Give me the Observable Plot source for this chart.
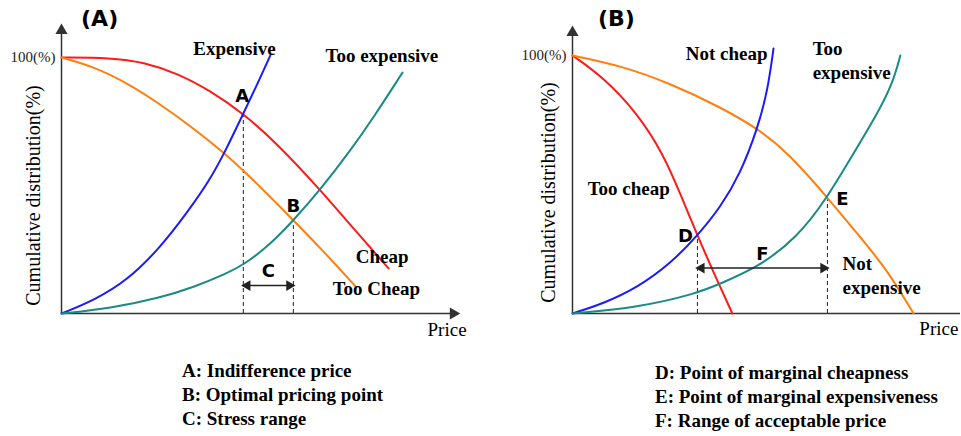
<!DOCTYPE html>
<html>
<head>
<meta charset="utf-8">
<script src="https://cdn.jsdelivr.net/npm/d3@7"></script>
<script src="https://cdn.jsdelivr.net/npm/@observablehq/plot@0.6"></script>
<style>
  html, body { margin: 0; padding: 0; background: #fff; }
  #root { position: relative; width: 961px; height: 436px; overflow: hidden; }
  #panelA { position: absolute; left: 0; top: 0; }
  #panelB { position: absolute; left: 480px; top: 0; }
  .cap { position: absolute; font-family: "Liberation Serif", "Times New Roman", serif; font-weight: bold; font-size: 19px; line-height: 24px; color: #000; white-space: nowrap; }
  #capA { left: 182px; top: 359px; }
  #capB { left: 655px; top: 361px; }
</style>
</head>
<body>
<div id="root">
  <div id="panelA"></div>
  <div id="panelB"></div>
  <div class="cap" id="capA"></div>
  <div class="cap" id="capB"></div>
</div>
<script>
// ---------- Panel A data (price 0-100, cumulative % 0-100) ----------
const cheapX        = [0, 12.3, 20.7, 29.2, 37.5, 45.8, 53.9, 65.2, 74.6, 82.4];
const cheapY        = [100, 99.9, 98.2, 93.8, 87.0, 78.1, 67.0, 48.3, 31.3, 17.6];
const tooCheapX     = [0, 8.1, 16.6, 24.9, 33.2, 41.3, 45.8, 58.4, 66.0, 74.3];
const tooCheapY     = [100, 96.4, 90.0, 81.7, 72.4, 62.3, 56.0, 36.5, 24.3, 10.2];
const expensiveX    = [0, 8.1, 16.6, 24.9, 31.7, 37.5, 41.3, 45.8, 49.4, 52.6];
const expensiveY    = [0, 5.1, 12.9, 25.8, 39.5, 52.5, 63.5, 78.1, 89.8, 100.8];
const tooExpAX      = [0, 12.3, 24.9, 33.2, 41.8, 45.8, 51.9, 58.4, 65.0, 72.8, 78.6, 85.9];
const tooExpAY      = [0, 2.0, 6.2, 10.2, 15.8, 19.0, 26.0, 36.3, 48.0, 63.7, 76.6, 94.1];

// key points A (indifference), B (optimal)
const pointsA       = ["A", "B"];
const pointsAX      = [45.8, 58.4];
const pointsAY      = [78.1, 36.4];
const rangeA        = {label: "C", x1: 45.8, x2: 58.4, y: 10.9};

// ---------- Panel B data ----------
const tooCheapBX    = [0, 8.0, 16.8, 23.5, 27.8, 32.2, 36.6, 41.2];
const tooCheapBY    = [100, 91.5, 77.5, 61.5, 46.3, 30.2, 15.1, 0];
const notExpX       = [0, 12.4, 25.3, 38.1, 47.7, 55.4, 65.7, 74.2, 81.2, 87.9];
const notExpY       = [100, 96.1, 89.1, 80.0, 71.7, 62.5, 45.0, 29.5, 16.7, 0];
const notCheapX     = [0, 8.0, 16.8, 25.3, 32.2, 38.1, 43.3, 47.7, 50.3, 51.8];
const notCheapY     = [0, 3.9, 10.1, 19.4, 30.2, 41.1, 54.3, 71.7, 86.4, 102.7];
const tooExpBX      = [0, 16.8, 32.2, 38.1, 47.7, 58.0, 65.7, 72.4, 78.6, 82.5, 84.5];
const tooExpBY      = [0, 2.3, 7.8, 11.6, 17.8, 29.5, 45.0, 62.0, 77.5, 89.1, 100];

const pointsB       = ["D", "E"];
const pointsBX      = [32.2, 65.7];
const pointsBY      = [30.2, 45.0];
const rangeB        = {label: "F", x1: 32.2, x2: 65.7, y: 17.6};

// ---------- Text ----------
const captionA = ["A: Indifference price", "B: Optimal pricing point", "C: Stress range"];
const captionB = ["D: Point of marginal cheapness", "E: Point of marginal expensiveness", "F: Range of acceptable price"];
const yLabel = "Cumulative distribution(%)";
const xLabel = "Price";
const topTick = "100(%)";

// series label annotations (data coordinates)
const labelsA = [
  {text: "Expensive", x: 33.2, y: 103.5},
  {text: "Too expensive", x: 66.5, y: 100.8},
  {text: "Cheap", x: 74.1, y: 22.3},
  {text: "Too Cheap", x: 68.3, y: 9.8}
];
const labelsB = [
  {text: "Not cheap", x: 29.2, y: 100.5},
  {text: "Too", x: 61.9, y: 102.7},
  {text: "expensive", x: 61.9, y: 93.4},
  {text: "Too cheap", x: 3.9, y: 48.4},
  {text: "Not", x: 69.6, y: 19.4},
  {text: "expensive", x: 69.6, y: 10.1}
];

const RED = "#ff1a1a", ORANGE = "#ff7f0e", BLUE = "#1a1aff", TEAL = "#1a8a84", AXIS = "#333333";
const SERIF = "'Liberation Serif', 'Times New Roman', serif";
const SANS = "'DejaVu Sans', Verdana, sans-serif";

const pts = (xs, ys) => xs.map((x, i) => ({x, y: ys[i]}));

function curve(xs, ys, color) {
  return Plot.line(pts(xs, ys), {x: "x", y: "y", stroke: color, strokeWidth: 2, curve: "basis"});
}

function panel(opts) {
  const {curves, keyNames, keyX, keyY, keyOff, range, labels, title, titleX, titleY, yLabX, yLabY, priceX, priceY, yTop, xEnd, xArrow, layout} = opts;
  const keys = keyNames.map((k, i) => ({k, x: keyX[i], y: keyY[i]}));
  const marks = [
    // axes
    Plot.ruleY([0], {x1: 0, x2: xEnd, stroke: AXIS, strokeWidth: 1.5}),
    Plot.ruleX([0], {y1: 0, y2: yTop, stroke: AXIS, strokeWidth: 1.5}),
    Plot.dot([{x: 0, y: yTop}], {x: "x", y: "y", symbol: "triangle", r: 4.5, fill: AXIS, stroke: null}),
    // dashed guides
    Plot.ruleX(keys, {x: "x", y1: 0, y2: "y", stroke: "#222", strokeWidth: 1, strokeDasharray: "4,3"}),
    // curves
    ...curves.map(c => curve(c[0], c[1], c[2])),
    // range arrow
    Plot.link([range], {x1: "x1", x2: "x2", y1: "y", y2: "y", stroke: "#222", strokeWidth: 1.5}),
    Plot.dot([range], {x: "x1", y: "y", symbol: "triangle", rotate: -90, r: 4, dx: 4, fill: "#222", stroke: null}),
    Plot.dot([range], {x: "x2", y: "y", symbol: "triangle", rotate: 90, r: 4, dx: -4, fill: "#222", stroke: null}),
    Plot.text([range], {x: d => (d.x1 + d.x2) / 2, y: "y", text: "label", dy: -14, fontFamily: SANS, fontWeight: "bold", fontSize: 18, fill: "#000"}),
    // key point letters (one mark each so offsets stay constant)
    ...keys.map((d, i) => Plot.text([d], {x: "x", y: "y", text: "k", dx: keyOff[i][0], dy: keyOff[i][1], fontFamily: SANS, fontWeight: "bold", fontSize: 18, fill: "#000"})),
    // series labels
    Plot.text(labels, {x: "x", y: "y", text: "text", textAnchor: "start", fontFamily: SERIF, fontWeight: "bold", fontSize: 19, fill: "#000"}),
    // axis texts
    Plot.text([topTick], {x: 0, y: 100, text: d => d, dx: -6, textAnchor: "end", fontFamily: SERIF, fontSize: 15, fill: "#222"}),
    Plot.text([yLabel], {x: yLabX, y: yLabY, text: d => d, rotate: -90, fontFamily: SERIF, fontSize: 20, fill: "#000"}),
    Plot.text([xLabel], {x: priceX, y: priceY, text: d => d, textAnchor: "start", fontFamily: SERIF, fontSize: 19, fill: "#000"}),
    Plot.text([title], {x: titleX, y: titleY, text: d => d, fontFamily: SANS, fontWeight: "bold", fontSize: 22, fill: "#000"})
  ];
  if (xArrow) marks.push(Plot.dot([{x: xEnd, y: 0}], {x: "x", y: "y", symbol: "triangle", rotate: 90, r: 4.5, fill: AXIS, stroke: null}));
  return Plot.plot({
    ...layout,
    x: {domain: [0, 100], axis: null},
    y: {domain: [0, 100], axis: null},
    marks
  });
}

const plotA = panel({
  curves: [
    [cheapX, cheapY, RED],
    [tooCheapX, tooCheapY, ORANGE],
    [expensiveX, expensiveY, BLUE],
    [tooExpAX, tooExpAY, TEAL]
  ],
  keyNames: pointsA, keyX: pointsAX, keyY: pointsAY, keyOff: [[-1, -17], [0, -14]],
  range: rangeA, labels: labelsA,
  title: "(A)", titleX: 9.6, titleY: 115.2,
  yLabX: -7.05, yLabY: 46.1, priceX: 92.2, priceY: -6.6, yTop: 110.5, xEnd: 98.7, xArrow: true,
  layout: {width: 480, height: 340, marginLeft: 61, marginRight: 22, marginTop: 57, marginBottom: 27}
});

const plotB = panel({
  curves: [
    [tooCheapBX, tooCheapBY, RED],
    [notExpX, notExpY, ORANGE],
    [notCheapX, notCheapY, BLUE],
    [tooExpBX, tooExpBY, TEAL]
  ],
  keyNames: pointsB, keyX: pointsBX, keyY: pointsBY, keyOff: [[-12, 1], [15, 2]],
  range: rangeB, labels: labelsB,
  title: "(B)", titleX: 11.3, titleY: 114.3,
  yLabX: -6.2, yLabY: 46.9, priceX: 89.4, priceY: -5.8, yTop: 108.9, xEnd: 100, xArrow: false,
  layout: {width: 481, height: 340, marginLeft: 92, marginRight: 1, marginTop: 55, marginBottom: 27}
});

document.getElementById("panelA").appendChild(plotA);
document.getElementById("panelB").appendChild(plotB);
document.getElementById("capA").innerHTML = captionA.map(t => `<div>${t}</div>`).join("");
document.getElementById("capB").innerHTML = captionB.map(t => `<div>${t}</div>`).join("");
</script>
</body>
</html>
